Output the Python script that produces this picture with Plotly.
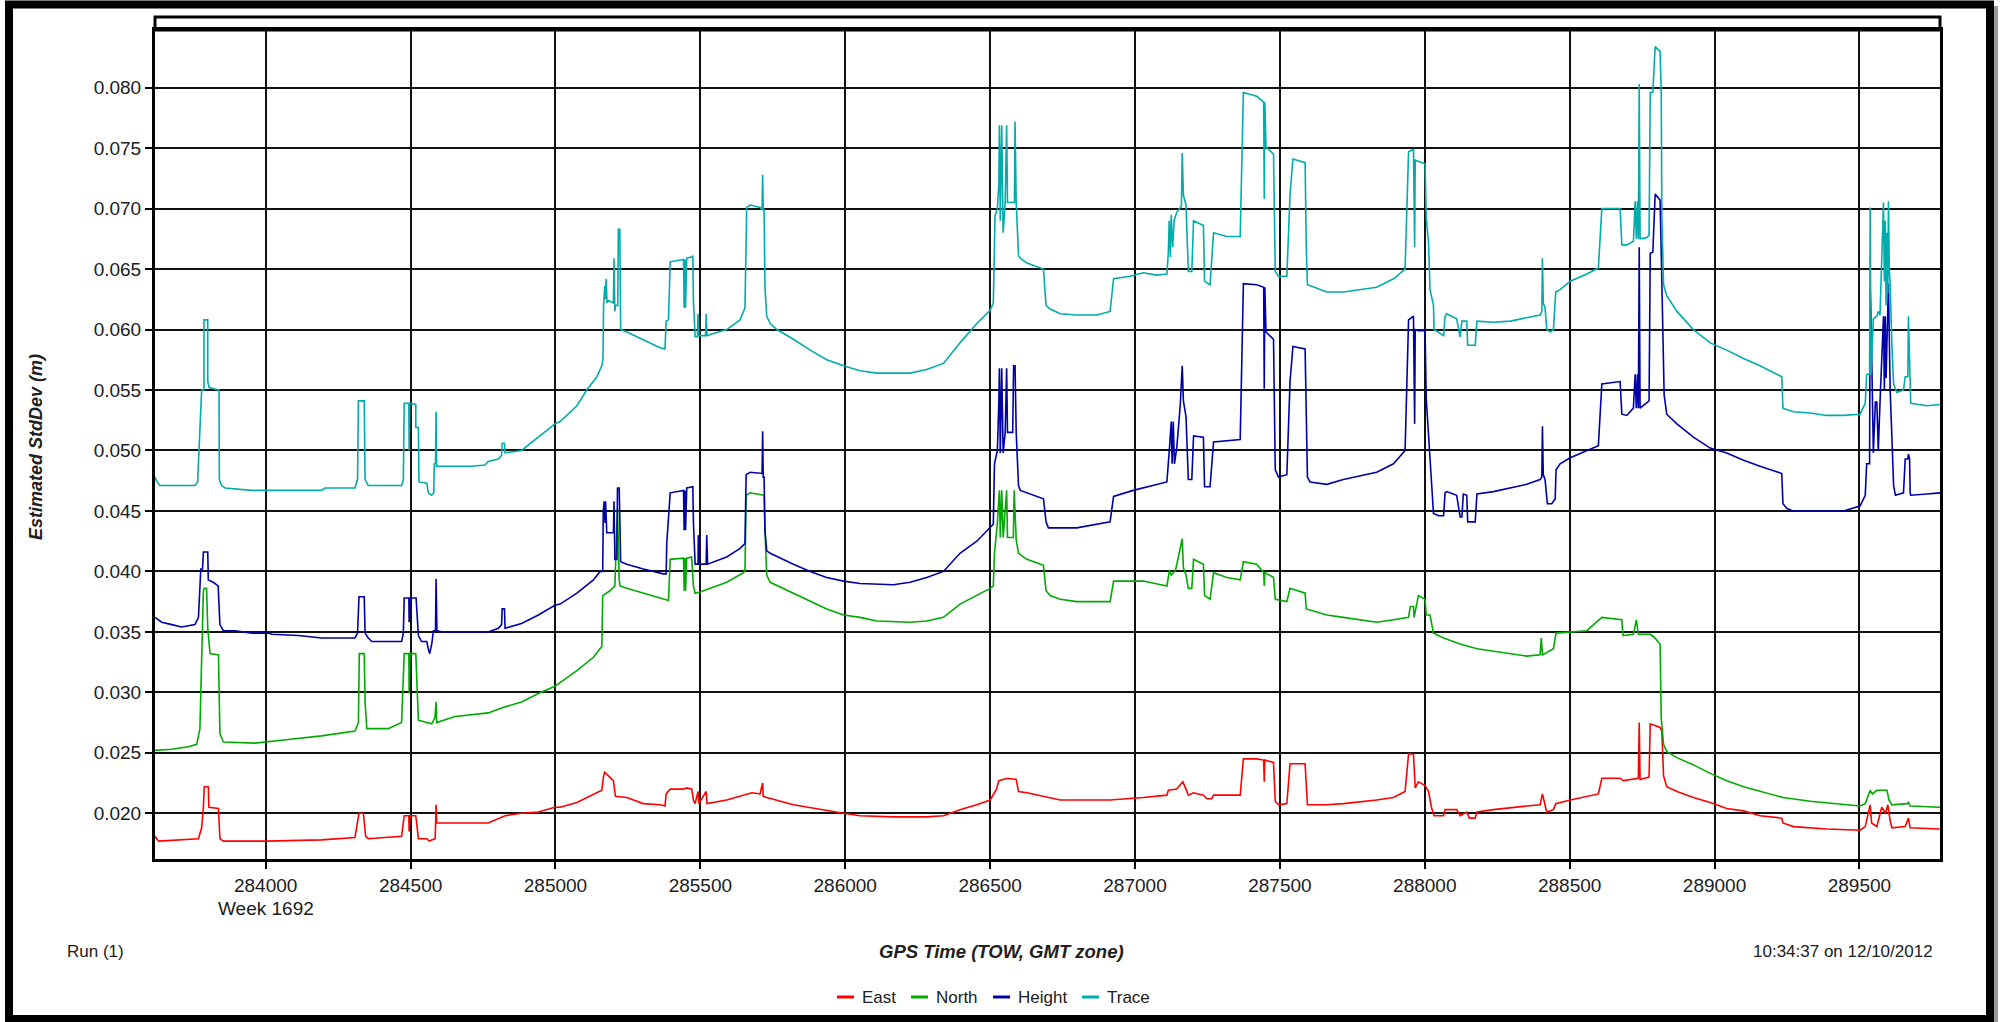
import plotly.graph_objects as go

# ---------------- data: GPS time of week (s) and estimated std dev (m) ----------------
east_t = [283618, 283630, 283768, 283779, 283785, 283788, 283802, 283804, 283837, 283842, 283854, 284000,
          284193, 284308, 284322, 284337, 284345, 284354, 284469, 284478, 284494, 284495, 284498, 284518,
          284527, 284556, 284564, 284573, 284585, 284588, 284590, 284768, 284826, 284883, 284941, 284998,
          285016, 285074, 285131, 285160, 285166, 285170, 285183, 285200, 285207, 285246, 285303, 285361,
          285378, 285382, 285396, 285442, 285453, 285470, 285476, 285482, 285492, 285495, 285520, 285523,
          285591, 285637, 285678, 285706, 285715, 285717, 285729, 285821, 285936, 285994, 286051, 286166,
          286281, 286339, 286396, 286454, 286500, 286511, 286522, 286530, 286560, 286590, 286598, 286627,
          286684, 286742, 286914, 286983, 287029, 287110, 287115, 287144, 287165, 287176, 287184, 287202,
          287236, 287248, 287265, 287271, 287363, 287374, 287420, 287444, 287446, 287448, 287478, 287484,
          287495, 287524, 287535, 287587, 287591, 287595, 287662, 287719, 287834, 287892, 287932, 287944,
          287961, 287967, 287978, 288001, 288013, 288023, 288032, 288065, 288070, 288110, 288122, 288145,
          288154, 288174, 288180, 288237, 288352, 288398, 288406, 288415, 288421, 288444, 288452, 288502,
          288599, 288611, 288674, 288685, 288720, 288737, 288740, 288743, 288774, 288778, 288812, 288818,
          288824, 288835, 288870, 288927, 288985, 289042, 289100, 289157, 289232, 289236, 289272, 289387,
          289502, 289520, 289537, 289542, 289560, 289577, 289590, 289598, 289606, 289612, 289658, 289669,
          289675, 289779]
east_v = [0.0181, 0.0177, 0.0179, 0.0188, 0.0205, 0.0222, 0.0222, 0.0205, 0.0204, 0.0179, 0.0177, 0.0177,
          0.0178, 0.0180, 0.0200, 0.0200, 0.0181, 0.0179, 0.0181, 0.0198, 0.0198, 0.0185, 0.0198, 0.0198,
          0.0179, 0.0179, 0.0177, 0.0178, 0.0179, 0.0207, 0.0192, 0.0192, 0.0198, 0.0200, 0.0201, 0.0205,
          0.0205, 0.0209, 0.0216, 0.0219, 0.0231, 0.0234, 0.0231, 0.0227, 0.0214, 0.0213, 0.0208, 0.0207,
          0.0206, 0.0216, 0.0220, 0.0220, 0.0221, 0.0220, 0.0211, 0.0208, 0.0218, 0.0208, 0.0218, 0.0208,
          0.0211, 0.0214, 0.0217, 0.0216, 0.0225, 0.0214, 0.0213, 0.0207, 0.0202, 0.0200, 0.0198, 0.0197,
          0.0197, 0.0198, 0.0203, 0.0207, 0.0211, 0.0216, 0.0220, 0.0227, 0.0229, 0.0228, 0.0218, 0.0217,
          0.0214, 0.0211, 0.0211, 0.0212, 0.0213, 0.0215, 0.0219, 0.0220, 0.0226, 0.0220, 0.0215, 0.0217,
          0.0215, 0.0212, 0.0212, 0.0215, 0.0215, 0.0245, 0.0245, 0.0244, 0.0226, 0.0244, 0.0242, 0.0210,
          0.0207, 0.0208, 0.0241, 0.0241, 0.0218, 0.0207, 0.0207, 0.0208, 0.0211, 0.0213, 0.0218, 0.0249,
          0.0249, 0.0221, 0.0226, 0.0223, 0.0218, 0.0205, 0.0198, 0.0198, 0.0203, 0.0203, 0.0198, 0.0201,
          0.0196, 0.0196, 0.0201, 0.0203, 0.0206, 0.0207, 0.0216, 0.0206, 0.0201, 0.0203, 0.0208, 0.0211,
          0.0216, 0.0229, 0.0229, 0.0227, 0.0228, 0.0229, 0.0275, 0.0228, 0.0230, 0.0274, 0.0271, 0.0268,
          0.0231, 0.0222, 0.0218, 0.0213, 0.0209, 0.0204, 0.0202, 0.0198, 0.0196, 0.0192, 0.0189, 0.0187,
          0.0186, 0.0189, 0.0207, 0.0192, 0.0189, 0.0205, 0.0200, 0.0207, 0.0194, 0.0188, 0.0189, 0.0196,
          0.0188, 0.0187]

north_t = [283618, 283676, 283733, 283762, 283773, 283779, 283785, 283788, 283796, 283800, 283808, 283837,
           283842, 283854, 283963, 284078, 284193, 284308, 284320, 284323, 284340, 284343, 284349, 284423,
           284469, 284478, 284494, 284495, 284498, 284518, 284521, 284527, 284573, 284584, 284588, 284590,
           284653, 284768, 284826, 284883, 284941, 284998, 285016, 285074, 285131, 285160, 285163, 285188,
           285205, 285214, 285220, 285223, 285246, 285384, 285390, 285396, 285442, 285444, 285447, 285449,
           285453, 285470, 285476, 285482, 285499, 285591, 285649, 285654, 285658, 285672, 285715, 285720,
           285723, 285729, 285741, 285821, 285936, 285994, 286051, 286109, 286224, 286281, 286339, 286396,
           286454, 286500, 286511, 286515, 286525, 286532, 286535, 286540, 286545, 286552, 286557, 286560,
           286580, 286583, 286586, 286590, 286598, 286627, 286684, 286693, 286707, 286742, 286799, 286914,
           286926, 287029, 287110, 287119, 287125, 287140, 287163, 287167, 287176, 287184, 287196, 287202,
           287236, 287240, 287259, 287271, 287317, 287363, 287374, 287420, 287444, 287446, 287448, 287478,
           287484, 287524, 287535, 287587, 287591, 287662, 287719, 287834, 287892, 287944, 287950, 287961,
           287963, 287978, 288001, 288005, 288018, 288030, 288065, 288122, 288180, 288237, 288295, 288352,
           288398, 288402, 288406, 288444, 288453, 288502, 288559, 288611, 288650, 288680, 288684, 288720,
           288730, 288737, 288778, 288790, 288812, 288816, 288824, 288835, 288870, 288927, 288985, 289042,
           289100, 289157, 289236, 289330, 289445, 289502, 289520, 289537, 289545, 289560, 289595, 289602,
           289612, 289665, 289669, 289675, 289779]
north_v = [0.0252, 0.0253, 0.0255, 0.0257, 0.0270, 0.0332, 0.0384, 0.0386, 0.0386, 0.0353, 0.0332, 0.0331,
           0.0266, 0.0259, 0.0258, 0.0261, 0.0264, 0.0268, 0.0275, 0.0332, 0.0332, 0.0292, 0.0270, 0.0270,
           0.0275, 0.0332, 0.0332, 0.0299, 0.0332, 0.0332, 0.0314, 0.0277, 0.0274, 0.0279, 0.0292, 0.0275,
           0.0280, 0.0283, 0.0288, 0.0292, 0.0299, 0.0305, 0.0308, 0.0318, 0.0329, 0.0338, 0.0380, 0.0384,
           0.0388, 0.0452, 0.0393, 0.0388, 0.0386, 0.0376, 0.0376, 0.0410, 0.0411, 0.0384, 0.0411, 0.0384,
           0.0411, 0.0412, 0.0388, 0.0382, 0.0383, 0.0391, 0.0399, 0.0401, 0.0463, 0.0465, 0.0463, 0.0463,
           0.0434, 0.0397, 0.0391, 0.0382, 0.0369, 0.0364, 0.0362, 0.0359, 0.0358, 0.0359, 0.0362, 0.0373,
           0.0380, 0.0386, 0.0388, 0.0415, 0.0440, 0.0467, 0.0428, 0.0467, 0.0428, 0.0450, 0.0467, 0.0428,
           0.0428, 0.0467, 0.0440, 0.0426, 0.0415, 0.0410, 0.0405, 0.0384, 0.0380, 0.0377, 0.0375, 0.0375,
           0.0392, 0.0392, 0.0388, 0.0401, 0.0397, 0.0401, 0.0427, 0.0403, 0.0397, 0.0386, 0.0386, 0.0410,
           0.0406, 0.0380, 0.0377, 0.0399, 0.0395, 0.0393, 0.0408, 0.0406, 0.0399, 0.0388, 0.0399, 0.0395,
           0.0377, 0.0375, 0.0386, 0.0382, 0.0369, 0.0364, 0.0362, 0.0358, 0.0360, 0.0362, 0.0371, 0.0371,
           0.0362, 0.0380, 0.0377, 0.0364, 0.0364, 0.0349, 0.0345, 0.0340, 0.0336, 0.0334, 0.0332, 0.0330,
           0.0331, 0.0345, 0.0331, 0.0336, 0.0349, 0.0350, 0.0351, 0.0362, 0.0361, 0.0360, 0.0347, 0.0348,
           0.0360, 0.0348, 0.0348, 0.0346, 0.0340, 0.0279, 0.0257, 0.0251, 0.0246, 0.0240, 0.0233, 0.0227,
           0.0222, 0.0218, 0.0213, 0.0210, 0.0207, 0.0206, 0.0208, 0.0219, 0.0216, 0.0219, 0.0219, 0.0211,
           0.0207, 0.0208, 0.0209, 0.0206, 0.0205]

height_t = [283618, 283641, 283676, 283710, 283756, 283768, 283776, 283782, 283785, 283800, 283802, 283819,
            283836, 283842, 283854, 283894, 283952, 284009, 284021, 284113, 284193, 284308, 284317, 284322,
            284340, 284343, 284354, 284366, 284469, 284475, 284478, 284494, 284495, 284499, 284519, 284521,
            284527, 284538, 284556, 284561, 284566, 284573, 284579, 284586, 284588, 284591, 284607, 284768,
            284803, 284814, 284816, 284824, 284826, 284883, 284941, 284998, 285016, 285074, 285131, 285154,
            285163, 285165, 285168, 285171, 285173, 285177, 285200, 285202, 285205, 285212, 285214, 285220,
            285225, 285246, 285303, 285372, 285382, 285384, 285396, 285442, 285444, 285447, 285449, 285453,
            285474, 285476, 285482, 285492, 285493, 285496, 285520, 285522, 285525, 285591, 285637, 285654,
            285658, 285672, 285706, 285713, 285715, 285717, 285720, 285723, 285729, 285741, 285821, 285879,
            285936, 285994, 286051, 286166, 286224, 286281, 286339, 286396, 286454, 286511, 286515, 286525,
            286530, 286532, 286535, 286540, 286545, 286552, 286557, 286560, 286578, 286581, 286586, 286590,
            286598, 286604, 286684, 286693, 286701, 286799, 286914, 286926, 286994, 287029, 287110, 287119,
            287125, 287128, 287132, 287136, 287144, 287156, 287163, 287167, 287176, 287184, 287196, 287202,
            287236, 287240, 287259, 287271, 287363, 287374, 287420, 287444, 287446, 287448, 287452, 287478,
            287484, 287495, 287524, 287535, 287545, 287587, 287591, 287595, 287604, 287662, 287719, 287834,
            287892, 287932, 287944, 287961, 287965, 287967, 287978, 288001, 288005, 288013, 288021, 288030,
            288048, 288065, 288070, 288076, 288110, 288122, 288128, 288133, 288145, 288148, 288174, 288180,
            288237, 288295, 288352, 288398, 288404, 288406, 288409, 288415, 288423, 288438, 288450, 288453,
            288467, 288502, 288559, 288599, 288611, 288674, 288680, 288697, 288720, 288726, 288730, 288734,
            288737, 288740, 288743, 288766, 288774, 288778, 288787, 288795, 288812, 288816, 288818, 288826,
            288835, 288870, 288927, 288985, 289042, 289100, 289157, 289232, 289236, 289250, 289272, 289387,
            289445, 289502, 289520, 289525, 289535, 289537, 289540, 289548, 289555, 289560, 289565, 289571,
            289583, 289586, 289589, 289592, 289595, 289600, 289606, 289612, 289618, 289624, 289652, 289658,
            289667, 289669, 289673, 289675, 289677, 289733, 289779]
height_v = [0.0362, 0.0358, 0.0356, 0.0354, 0.0356, 0.0362, 0.0402, 0.0402, 0.0416, 0.0416, 0.0393, 0.0391,
            0.0388, 0.0356, 0.0351, 0.0351, 0.0349, 0.0349, 0.0348, 0.0347, 0.0345, 0.0345, 0.0349, 0.0379,
            0.0379, 0.0349, 0.0345, 0.0342, 0.0342, 0.0349, 0.0378, 0.0378, 0.0358, 0.0378, 0.0378, 0.0367,
            0.0347, 0.0342, 0.0342, 0.0336, 0.0332, 0.0340, 0.0351, 0.0351, 0.0394, 0.0351, 0.0350, 0.0350,
            0.0353, 0.0356, 0.0369, 0.0369, 0.0353, 0.0357, 0.0364, 0.0372, 0.0373, 0.0382, 0.0393, 0.0400,
            0.0400, 0.0450, 0.0458, 0.0440, 0.0458, 0.0432, 0.0432, 0.0458, 0.0410, 0.0410, 0.0469, 0.0469,
            0.0408, 0.0406, 0.0402, 0.0398, 0.0398, 0.0423, 0.0465, 0.0467, 0.0434, 0.0467, 0.0434, 0.0469,
            0.0470, 0.0441, 0.0406, 0.0406, 0.0430, 0.0406, 0.0406, 0.0430, 0.0406, 0.0412, 0.0419, 0.0423,
            0.0480, 0.0482, 0.0481, 0.0481, 0.0516, 0.0478, 0.0478, 0.0434, 0.0417, 0.0415, 0.0406, 0.0400,
            0.0395, 0.0392, 0.0390, 0.0389, 0.0391, 0.0395, 0.0400, 0.0415, 0.0425, 0.0439, 0.0489, 0.0500,
            0.0540, 0.0568, 0.0498, 0.0568, 0.0498, 0.0515, 0.0568, 0.0515, 0.0515, 0.0570, 0.0570, 0.0515,
            0.0471, 0.0467, 0.0460, 0.0441, 0.0436, 0.0436, 0.0441, 0.0462, 0.0467, 0.0469, 0.0474, 0.0502,
            0.0524, 0.0489, 0.0524, 0.0489, 0.0502, 0.0537, 0.0570, 0.0541, 0.0528, 0.0476, 0.0476, 0.0512,
            0.0511, 0.0470, 0.0470, 0.0507, 0.0509, 0.0638, 0.0637, 0.0635, 0.0551, 0.0635, 0.0598, 0.0592,
            0.0484, 0.0478, 0.0480, 0.0557, 0.0586, 0.0584, 0.0509, 0.0478, 0.0474, 0.0472, 0.0476, 0.0482,
            0.0489, 0.0500, 0.0608, 0.0611, 0.0522, 0.0600, 0.0599, 0.0599, 0.0543, 0.0515, 0.0478, 0.0448,
            0.0446, 0.0446, 0.0465, 0.0466, 0.0463, 0.0445, 0.0445, 0.0464, 0.0463, 0.0441, 0.0441, 0.0464,
            0.0466, 0.0469, 0.0472, 0.0476, 0.0478, 0.0520, 0.0480, 0.0476, 0.0456, 0.0456, 0.0460, 0.0484,
            0.0489, 0.0494, 0.0500, 0.0504, 0.0555, 0.0557, 0.0530, 0.0529, 0.0535, 0.0563, 0.0535, 0.0563,
            0.0535, 0.0668, 0.0535, 0.0539, 0.0541, 0.0663, 0.0664, 0.0712, 0.0707, 0.0664, 0.0637, 0.0546,
            0.0530, 0.0522, 0.0511, 0.0502, 0.0498, 0.0492, 0.0487, 0.0481, 0.0456, 0.0452, 0.0450, 0.0450,
            0.0450, 0.0454, 0.0463, 0.0489, 0.0489, 0.0635, 0.0611, 0.0498, 0.0540, 0.0540, 0.0500, 0.0540,
            0.0611, 0.0550, 0.0611, 0.0560, 0.0600, 0.0638, 0.0550, 0.0513, 0.0471, 0.0463, 0.0465, 0.0493,
            0.0493, 0.0497, 0.0493, 0.0465, 0.0463, 0.0464, 0.0465]

trace_t = [283618, 283625, 283635, 283756, 283765, 283768, 283773, 283779, 283787, 283787, 283800, 283800,
           283805, 283839, 283840, 283848, 283860, 283952, 284193, 284205, 284308, 284317, 284320, 284340,
           284343, 284354, 284469, 284475, 284478, 284494, 284495, 284497, 284518, 284518, 284527, 284529,
           284556, 284561, 284573, 284580, 284582, 284586, 284588, 284590, 284711, 284757, 284768, 284803,
           284814, 284816, 284824, 284826, 284883, 284941, 284998, 285016, 285074, 285108, 285143, 285160,
           285164, 285166, 285170, 285172, 285175, 285178, 285183, 285200, 285202, 285205, 285207, 285215,
           285217, 285222, 285225, 285246, 285361, 285378, 285382, 285390, 285396, 285442, 285444, 285447,
           285449, 285453, 285470, 285474, 285476, 285482, 285490, 285492, 285495, 285518, 285520, 285523,
           285534, 285591, 285637, 285654, 285660, 285672, 285706, 285713, 285715, 285717, 285720, 285723,
           285729, 285741, 285764, 285821, 285879, 285936, 285994, 286051, 286109, 286224, 286281, 286339,
           286396, 286454, 286500, 286511, 286517, 286525, 286530, 286532, 286535, 286540, 286545, 286552,
           286557, 286560, 286584, 286586, 286590, 286598, 286604, 286627, 286684, 286693, 286707, 286742,
           286799, 286868, 286914, 286926, 286983, 287029, 287075, 287110, 287115, 287118, 287122, 287125,
           287130, 287135, 287144, 287160, 287163, 287167, 287176, 287184, 287196, 287202, 287236, 287240,
           287259, 287271, 287317, 287363, 287374, 287420, 287444, 287446, 287448, 287452, 287478, 287484,
           287495, 287524, 287535, 287545, 287587, 287591, 287595, 287662, 287719, 287834, 287892, 287932,
           287944, 287961, 287965, 287967, 287978, 288001, 288005, 288013, 288018, 288030, 288032, 288065,
           288070, 288076, 288110, 288122, 288128, 288145, 288148, 288154, 288174, 288180, 288237, 288295,
           288352, 288398, 288404, 288406, 288409, 288415, 288421, 288433, 288444, 288452, 288467, 288502,
           288559, 288599, 288611, 288674, 288680, 288697, 288720, 288726, 288730, 288734, 288737, 288740,
           288743, 288766, 288774, 288778, 288787, 288795, 288812, 288816, 288818, 288824, 288835, 288870,
           288927, 288985, 289042, 289100, 289157, 289232, 289236, 289272, 289330, 289387, 289445, 289502,
           289520, 289525, 289535, 289537, 289540, 289548, 289560, 289565, 289571, 289583, 289586, 289589,
           289592, 289595, 289598, 289600, 289603, 289606, 289612, 289618, 289629, 289652, 289658, 289667,
           289669, 289673, 289675, 289677, 289733, 289779]
trace_v = [0.0478, 0.0474, 0.0471, 0.0471, 0.0474, 0.0490, 0.0515, 0.0550, 0.0550, 0.0608, 0.0608, 0.0557,
           0.0552, 0.0550, 0.0476, 0.0471, 0.0469, 0.0467, 0.0467, 0.0469, 0.0469, 0.0476, 0.0541, 0.0541,
           0.0476, 0.0471, 0.0471, 0.0476, 0.0539, 0.0539, 0.0500, 0.0539, 0.0538, 0.0519, 0.0519, 0.0474,
           0.0473, 0.0465, 0.0463, 0.0465, 0.0489, 0.0489, 0.0532, 0.0487, 0.0487, 0.0488, 0.0491, 0.0493,
           0.0496, 0.0506, 0.0506, 0.0498, 0.0500, 0.0511, 0.0522, 0.0524, 0.0537, 0.0550, 0.0561, 0.0570,
           0.0575, 0.0620, 0.0636, 0.0625, 0.0642, 0.0622, 0.0624, 0.0622, 0.0659, 0.0615, 0.0620, 0.0620,
           0.0683, 0.0683, 0.0600, 0.0598, 0.0585, 0.0584, 0.0607, 0.0608, 0.0656, 0.0658, 0.0618, 0.0658,
           0.0618, 0.0659, 0.0660, 0.0661, 0.0624, 0.0594, 0.0594, 0.0613, 0.0595, 0.0595, 0.0613, 0.0595,
           0.0596, 0.0600, 0.0608, 0.0618, 0.0701, 0.0703, 0.0701, 0.0699, 0.0728, 0.0699, 0.0699, 0.0635,
           0.0611, 0.0605, 0.0600, 0.0592, 0.0583, 0.0575, 0.0570, 0.0566, 0.0564, 0.0564, 0.0567, 0.0572,
           0.0589, 0.0605, 0.0616, 0.0622, 0.0694, 0.0700, 0.0720, 0.0769, 0.0690, 0.0769, 0.0680, 0.0705,
           0.0769, 0.0705, 0.0705, 0.0772, 0.0705, 0.0661, 0.0659, 0.0655, 0.0650, 0.0620, 0.0617, 0.0613,
           0.0612, 0.0612, 0.0615, 0.0642, 0.0644, 0.0647, 0.0645, 0.0646, 0.0664, 0.0690, 0.0660, 0.0695,
           0.0668, 0.0690, 0.0697, 0.0702, 0.0746, 0.0711, 0.0703, 0.0648, 0.0648, 0.0690, 0.0686, 0.0640,
           0.0637, 0.0680, 0.0677, 0.0677, 0.0796, 0.0793, 0.0788, 0.0708, 0.0788, 0.0751, 0.0745, 0.0648,
           0.0644, 0.0644, 0.0712, 0.0741, 0.0738, 0.0668, 0.0637, 0.0631, 0.0631, 0.0635, 0.0642, 0.0650,
           0.0747, 0.0749, 0.0668, 0.0740, 0.0739, 0.0737, 0.0692, 0.0672, 0.0633, 0.0620, 0.0600, 0.0595,
           0.0611, 0.0613, 0.0609, 0.0594, 0.0607, 0.0607, 0.0587, 0.0587, 0.0587, 0.0607, 0.0606, 0.0607,
           0.0610, 0.0612, 0.0615, 0.0659, 0.0622, 0.0618, 0.0600, 0.0598, 0.0600, 0.0631, 0.0633, 0.0640,
           0.0646, 0.0651, 0.0700, 0.0700, 0.0670, 0.0670, 0.0673, 0.0706, 0.0675, 0.0706, 0.0675, 0.0803,
           0.0675, 0.0676, 0.0678, 0.0796, 0.0796, 0.0834, 0.0830, 0.0796, 0.0694, 0.0637, 0.0628, 0.0615,
           0.0600, 0.0589, 0.0583, 0.0576, 0.0570, 0.0561, 0.0535, 0.0532, 0.0531, 0.0529, 0.0529, 0.0530,
           0.0539, 0.0563, 0.0563, 0.0701, 0.0563, 0.0609, 0.0611, 0.0615, 0.0612, 0.0705, 0.0640, 0.0690,
           0.0620, 0.0680, 0.0630, 0.0706, 0.0650, 0.0637, 0.0587, 0.0555, 0.0548, 0.0550, 0.0561, 0.0561,
           0.0611, 0.0561, 0.0550, 0.0539, 0.0537, 0.0538]

series_names = ["East", "North", "Height", "Trace"]
series_colors = ["#ff0000", "#00aa00", "#0000aa", "#00acac"]
series_data = [(east_t, east_v), (north_t, north_v), (height_t, height_v), (trace_t, trace_v)]

x_ticks = [284000, 284500, 285000, 285500, 286000, 286500, 287000, 287500, 288000, 288500, 289000, 289500]
x_range = [283618, 289778]
y_range = [0.01622, 0.08477]

# ---------------- page geometry (pixels) ----------------
W, H = 2006, 1022
L, R, T, B = 155, 1940, 30, 859          # plot area edges
FONT = "Liberation Sans, Arial, sans-serif"
TEXT = "#202020"


def px(x):
    return (x - L) / (R - L)


def py(y):
    return (B - y) / (B - T)


fig = go.Figure()
for name, color, (t, v) in zip(series_names, series_colors, series_data):
    fig.add_trace(go.Scatter(x=t, y=v, mode="lines", name=name,
                             line=dict(color=color, width=1.6), showlegend=False))

axis_common = dict(showline=True, linecolor="black", linewidth=3, mirror=True,
                   showgrid=True, gridcolor="#111111", gridwidth=1.6,
                   ticks="outside", ticklen=7, tickwidth=2, tickcolor="black",
                   zeroline=False, tickfont=dict(family=FONT, size=19, color=TEXT))

fig.update_xaxes(range=x_range, tickvals=x_ticks, ticktext=[str(v) for v in x_ticks], **axis_common)
fig.update_yaxes(range=y_range, dtick=0.005, tick0=0.0, tickformat=".3f", **axis_common)

shapes = [
    # outer page frame
    dict(type="rect", xref="paper", yref="paper", x0=px(9), x1=px(1990), y0=py(1019), y1=py(4.5),
         line=dict(color="black", width=8), layer="above"),
    # soft shadow on the right edge
    dict(type="line", xref="paper", yref="paper", x0=px(1996), x1=px(1996), y0=py(1022), y1=py(6),
         line=dict(color="#9a9a9a", width=4), layer="above"),
    # header strip above the plot
    dict(type="rect", xref="paper", yref="paper", x0=0, x1=1, y0=1, y1=py(17),
         line=dict(color="black", width=3), layer="above"),
]

annotations = [
    dict(text="<b><i>Estimated StdDev (m)</i></b>", textangle=-90, xref="paper", yref="paper",
         x=px(36), y=py(447), showarrow=False, xanchor="center", yanchor="middle",
         font=dict(family=FONT, size=18, color=TEXT)),
    dict(text="<b><i>GPS Time (TOW, GMT zone)</i></b>", xref="paper", yref="paper",
         x=px(1001), y=py(952), showarrow=False, xanchor="center", yanchor="middle",
         font=dict(family=FONT, size=18.5, color=TEXT)),
    dict(text="Week 1692", xref="x", yref="paper", x=284000, y=py(908), showarrow=False,
         xanchor="center", yanchor="middle", font=dict(family=FONT, size=19, color=TEXT)),
    dict(text="Run (1)", xref="paper", yref="paper", x=px(65), y=py(952), showarrow=False,
         xanchor="left", yanchor="middle", font=dict(family=FONT, size=17, color=TEXT)),
    dict(text="10:34:37 on 12/10/2012", xref="paper", yref="paper", x=px(1935), y=py(952),
         showarrow=False, xanchor="right", yanchor="middle", font=dict(family=FONT, size=17, color=TEXT)),
]

# legend row under the axis title: short swatch + label for each series
legend_swatch_x = [837, 911, 993, 1082]
legend_y = 997
for name, color, sx in zip(series_names, series_colors, legend_swatch_x):
    shapes.append(dict(type="line", xref="paper", yref="paper", x0=px(sx), x1=px(sx + 17),
                       y0=py(legend_y), y1=py(legend_y), line=dict(color=color, width=3)))
    annotations.append(dict(text=name, xref="paper", yref="paper", x=px(sx + 23), y=py(legend_y),
                            showarrow=False, xanchor="left", yanchor="middle",
                            font=dict(family=FONT, size=17, color=TEXT)))

fig.update_layout(width=W, height=H, margin=dict(l=L, r=W - R, t=T, b=H - B),
                  paper_bgcolor="white", plot_bgcolor="white",
                  shapes=shapes, annotations=annotations)

fig.write_html("out.html")
